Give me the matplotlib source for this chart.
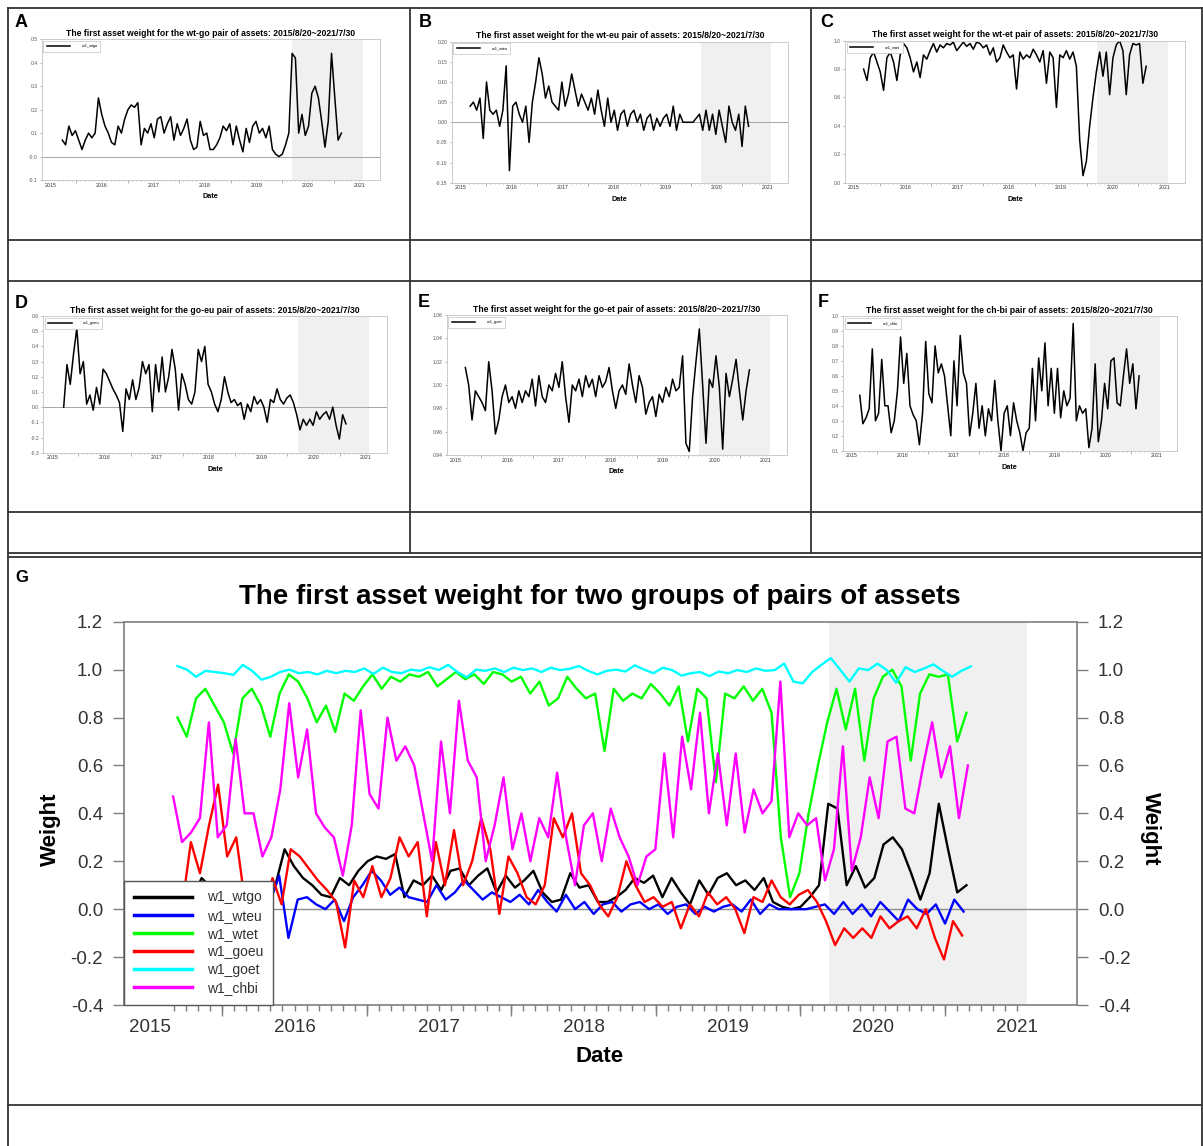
import numpy as np
import matplotlib.pyplot as plt
from matplotlib.lines import Line2D

plt.rcParams['font.family'] = ['Liberation Sans', 'DejaVu Sans']

W, H = 1203, 1146

# first asset weights (roughly every 3-4 weeks)
wtgo = [0.07, 0.05, 0.13, 0.09, 0.11, 0.07, 0.03, 0.07, 0.10, 0.08,
        0.10, 0.25, 0.18, 0.13, 0.10, 0.06, 0.05, 0.13, 0.10, 0.16,
        0.20, 0.22, 0.21, 0.23, 0.05, 0.12, 0.10, 0.14, 0.08, 0.16,
        0.17, 0.10, 0.14, 0.17, 0.07, 0.14, 0.09, 0.12, 0.16, 0.07,
        0.03, 0.04, 0.15, 0.09, 0.10, 0.03, 0.03, 0.05, 0.08, 0.13,
        0.11, 0.14, 0.05, 0.13, 0.07, 0.02, 0.12, 0.06, 0.13, 0.15,
        0.10, 0.12, 0.08, 0.13, 0.03, 0.01, 0.00, 0.01, 0.05, 0.10,
        0.44, 0.42, 0.10, 0.18, 0.09, 0.13, 0.27, 0.30, 0.25, 0.15,
        0.04, 0.15, 0.44, 0.25, 0.07, 0.10]
wteu = [0.04, 0.05, 0.03, 0.06, -0.04, 0.10, 0.03, 0.02, 0.03, -0.01,
        0.03, 0.14, -0.12, 0.04, 0.05, 0.02, 0.00, 0.04, -0.05, 0.05,
        0.10, 0.16, 0.12, 0.06, 0.09, 0.05, 0.04, 0.03, 0.10, 0.04,
        0.07, 0.12, 0.08, 0.04, 0.07, 0.05, 0.03, 0.06, 0.02, 0.08,
        0.03, -0.01, 0.06, 0.00, 0.03, -0.02, 0.02, 0.03, -0.01, 0.02,
        0.03, 0.00, 0.02, -0.02, 0.01, 0.02, -0.02, 0.01, -0.01, 0.01,
        0.02, -0.01, 0.04, -0.02, 0.02, 0.00, 0.00, 0.00, 0.00, 0.01,
        0.02, -0.02, 0.03, -0.02, 0.02, -0.03, 0.03, -0.01, -0.05, 0.04,
        0.00, -0.02, 0.02, -0.06, 0.04, -0.01]
wtet = [0.80, 0.72, 0.88, 0.92, 0.85, 0.78, 0.65, 0.88, 0.92, 0.85,
        0.72, 0.90, 0.98, 0.95, 0.88, 0.78, 0.85, 0.74, 0.90, 0.87,
        0.93, 0.98, 0.92, 0.97, 0.95, 0.98, 0.97, 0.99, 0.93, 0.96,
        0.99, 0.96, 0.98, 0.94, 0.99, 0.98, 0.95, 0.97, 0.90, 0.95,
        0.85, 0.88, 0.97, 0.92, 0.88, 0.90, 0.66, 0.92, 0.87, 0.90,
        0.88, 0.94, 0.90, 0.85, 0.93, 0.70, 0.92, 0.88, 0.53, 0.90,
        0.88, 0.93, 0.87, 0.92, 0.82, 0.30, 0.05, 0.15, 0.40, 0.60,
        0.78, 0.92, 0.75, 0.92, 0.62, 0.88, 0.97, 1.00, 0.93, 0.62,
        0.90, 0.98, 0.97, 0.98, 0.70, 0.82]
goeu = [0.00, 0.28, 0.15, 0.35, 0.52, 0.22, 0.30, 0.02, 0.08, -0.02,
        0.13, 0.02, 0.25, 0.22, 0.17, 0.12, 0.08, 0.03, -0.16, 0.12,
        0.05, 0.18, 0.05, 0.13, 0.30, 0.22, 0.28, -0.03, 0.28, 0.10,
        0.33, 0.10, 0.20, 0.38, 0.25, -0.02, 0.22, 0.15, 0.05, 0.02,
        0.10, 0.38, 0.30, 0.40, 0.15, 0.10, 0.02, -0.03, 0.05, 0.20,
        0.10, 0.03, 0.05, 0.01, 0.03, -0.08, 0.02, -0.03, 0.07, 0.02,
        0.05, 0.00, -0.10, 0.05, 0.03, 0.12, 0.05, 0.02, 0.06, 0.08,
        0.03, -0.05, -0.15, -0.08, -0.12, -0.08, -0.12, -0.03, -0.08, -0.05,
        -0.03, -0.08, 0.00, -0.12, -0.21, -0.05, -0.11]
goet = [1.015, 1.000, 0.970, 0.995, 0.990, 0.985, 0.978, 1.020, 0.995, 0.958,
        0.970, 0.990, 1.000, 0.985, 0.990, 0.980, 0.995, 0.985, 0.995, 0.990,
        1.005, 0.982, 1.008, 0.990, 0.985, 1.000, 0.995, 1.010, 0.998, 1.020,
        0.990, 0.968, 1.000, 0.995, 1.005, 0.990, 1.008, 0.998, 1.005, 0.990,
        1.008, 0.998, 1.003, 1.015, 0.995, 0.980, 0.995, 1.000, 0.992, 1.018,
        1.000, 0.985, 1.008, 0.998, 0.975, 0.985, 0.990, 0.973, 0.992, 0.985,
        0.998, 0.990, 1.005, 0.995, 0.998, 1.025, 0.950, 0.943, 0.990, 1.020,
        1.048, 1.000, 0.950, 1.005, 0.998, 1.025, 0.998, 0.945, 1.010, 0.990,
        1.005, 1.022, 0.995, 0.970, 0.995, 1.013]
chbi = [0.47, 0.28, 0.32, 0.38, 0.78, 0.30, 0.35, 0.71, 0.40, 0.40,
        0.22, 0.30, 0.50, 0.86, 0.55, 0.75, 0.40, 0.34, 0.30, 0.14,
        0.35, 0.83, 0.48, 0.42, 0.80, 0.62, 0.68, 0.60, 0.40, 0.20,
        0.70, 0.40, 0.87, 0.62, 0.55, 0.20, 0.35, 0.55, 0.25, 0.40,
        0.20, 0.38, 0.30, 0.57, 0.30, 0.10, 0.35, 0.40, 0.20, 0.42,
        0.30, 0.22, 0.10, 0.22, 0.25, 0.65, 0.30, 0.72, 0.50, 0.82,
        0.40, 0.65, 0.35, 0.65, 0.32, 0.50, 0.40, 0.45, 0.95, 0.30,
        0.40, 0.35, 0.38, 0.12, 0.25, 0.68, 0.16, 0.30, 0.55, 0.38,
        0.70, 0.72, 0.42, 0.40, 0.60, 0.78, 0.55, 0.68, 0.38, 0.60]

series = [wtgo, wteu, wtet, goeu, goet, chbi]
names = ['w1_wtgo', 'w1_wteu', 'w1_wtet', 'w1_goeu', 'w1_goet', 'w1_chbi']
pairs = ['wt-go', 'wt-eu', 'wt-et', 'go-eu', 'go-et', 'ch-bi']
t_start = [2015.23, 2015.19, 2015.19, 2015.22, 2015.19, 2015.16]
t_end = [2020.65, 2020.63, 2020.65, 2020.62, 2020.68, 2020.66]
colors = ['#000000', '#0000ff', '#00ff00', '#ff0000', '#00ffff', '#ff00ff']
years = [2015, 2016, 2017, 2018, 2019, 2020, 2021]
shade = (2019.70, 2021.07)

fig = plt.figure(figsize=(W / 100, H / 100), dpi=100)


def rect(l, t, r, b):
    return [l / W, 1 - b / H, (r - l) / W, (b - t) / H]


def hline(y, x0, x1):
    fig.add_artist(Line2D([x0 / W, x1 / W], [1 - y / H, 1 - y / H], color='#333333', lw=1.3))


def vline(x, y0, y1):
    fig.add_artist(Line2D([x / W, x / W], [1 - y0 / H, 1 - y1 / H], color='#333333', lw=1.3))


# table borders
for y in [8, 240, 281, 512, 553]:
    hline(y, 8, W)
for y in [557, 1105]:
    hline(y, 8, W)
for x in [410, 811]:
    vline(x, 8, 553)
vline(8, 8, 1146)
vline(1202, 8, 1146)


def date_axis(ax, minor_len, major_len, color, size, pad, lw):
    ax.set_xticks(years)
    ax.set_xticklabels([str(y) for y in years])
    ax.set_xticks(np.arange(2015 + 2 / 12, 2021.01, 1 / 12), minor=True)
    ax.xaxis.remove_overlapping_locs = False
    ax.tick_params(axis='x', which='major', length=0, pad=pad, labelsize=size, labelcolor='#333333')
    ax.tick_params(axis='x', which='minor', length=minor_len, width=lw, color=color)
    sec = ax.secondary_xaxis('bottom')
    sec.set_xticks([y + 0.5 for y in years[:-1]])
    sec.tick_params(length=major_len, width=lw, color=color, labelbottom=False)
    sec.spines['bottom'].set_visible(False)


# small panels A-F
boxes = [(41.7, 39.3, 380, 180), (451.7, 41.7, 788, 182.7), (845, 40.7, 1185, 182.7),
         (43.3, 316, 386.7, 452.7), (446.7, 315, 786.7, 455), (843, 316, 1176.7, 450.7)]
letters = ['A', 'B', 'C', 'D', 'E', 'F']
letter_pos = [(15, 14), (419, 14), (820, 14), (15, 295), (418, 294), (818, 294)]
ylims = [(-0.1, 0.5), (-0.15, 0.20), (0.0, 1.0), (-0.3, 0.6), (0.94, 1.06), (0.1, 1.0)]
nticks = [7, 8, 6, 10, 7, 10]
fmts = ['%.1f', '%.2f', '%.1f', '%.1f', '%.2f', '%.1f']

for i in range(6):
    ax = fig.add_axes(rect(*boxes[i]))
    ax.axvspan(shade[0], shade[1], color='#f0f0f0', lw=0, zorder=0)
    lo, hi = ylims[i]
    if lo < 0 < hi:
        ax.axhline(0, color='#a6a6a6', lw=0.7, zorder=1)
    t = np.linspace(t_start[i], t_end[i], len(series[i]))
    ax.plot(t, series[i], color='black', lw=1.1, label=names[i], zorder=2)
    ax.set_xlim(2014.83, 2021.40)
    ax.set_ylim(lo, hi)
    yt = np.linspace(lo, hi, nticks[i])
    ax.set_yticks(yt)
    ax.set_yticklabels([fmts[i] % v for v in yt])
    ax.tick_params(axis='y', length=1.5, width=0.5, color='#999999', pad=1.5,
                   labelsize=3.6, labelcolor='#555555')
    date_axis(ax, 1.0, 2.0, '#999999', 3.8, 1.8, 0.5)
    for s in ax.spines.values():
        s.set_color('#c4c4c4')
        s.set_linewidth(0.6)
    ax.set_title(f'The first asset weight for the {pairs[i]} pair of assets: 2015/8/20~2021/7/30',
                 fontsize=6.2, fontweight='bold', pad=2.5)
    ax.set_xlabel('Date', fontsize=5.2, fontweight='bold', labelpad=4)
    leg = ax.legend(loc='upper left', bbox_to_anchor=(0, 1), borderaxespad=0.4, fontsize=2.8,
                    handlelength=6, handletextpad=3, borderpad=0.9, fancybox=False,
                    edgecolor='#c4c4c4', framealpha=1)
    leg.get_frame().set_linewidth(0.5)
    fig.text(letter_pos[i][0] / W, 1 - letter_pos[i][1] / H, letters[i], fontsize=13,
             fontweight='bold', va='top', ha='left')

# panel G
ax = fig.add_axes(rect(124, 621.7, 1077, 1005))
ax.axvspan(shade[0], shade[1], color='#f0f0f0', lw=0, zorder=0)
ax.axhline(0, color='#8c8c8c', lw=1.0, zorder=1)
for i in range(6):
    t = np.linspace(t_start[i], t_end[i], len(series[i]))
    ax.plot(t, series[i], color=colors[i], lw=1.7, label=names[i], zorder=2)
ax.set_xlim(2014.82, 2021.415)
ax.set_ylim(-0.4, 1.2)
gy = np.linspace(-0.4, 1.2, 9)
ax.set_yticks(gy)
ax.set_yticklabels(['%.1f' % v for v in gy])
ax.tick_params(axis='y', left=True, right=True, labelleft=True, labelright=True,
               length=8, width=1.0, color='#7f7f7f', pad=7, labelsize=13.5, labelcolor='#333333')
date_axis(ax, 4, 8, '#7f7f7f', 13.5, 10, 1.0)
for s in ax.spines.values():
    s.set_color('#7f7f7f')
    s.set_linewidth(1.2)
leg = ax.legend(loc='lower left', bbox_to_anchor=(0, 0), borderaxespad=0, fontsize=10,
                handlelength=4.2, handletextpad=1.1, labelspacing=0.3, borderpad=0.7,
                fancybox=False, edgecolor='#555555', framealpha=1)
leg.get_frame().set_linewidth(1.0)
leg.set_zorder(5)
for line in leg.get_lines():
    line.set_linewidth(2.5)
for txt in leg.get_texts():
    txt.set_color('#333333')

fig.text(15 / W, 1 - 570 / H, 'G', fontsize=12, fontweight='bold', va='top', ha='left')
fig.text(600 / W, 1 - 597 / H, 'The first asset weight for two groups of pairs of assets',
         fontsize=20, fontweight='bold', ha='center', va='center')
fig.text(600 / W, 1 - 1057 / H, 'Date', fontsize=16, fontweight='bold', ha='center', va='center')
fig.text(50 / W, 1 - 829 / H, 'Weight', fontsize=16, fontweight='bold', rotation=90,
         ha='center', va='center')
fig.text(1150 / W, 1 - 829 / H, 'Weight', fontsize=16, fontweight='bold', rotation=-90,
         ha='center', va='center')

fig.savefig('out.png', dpi=100)
